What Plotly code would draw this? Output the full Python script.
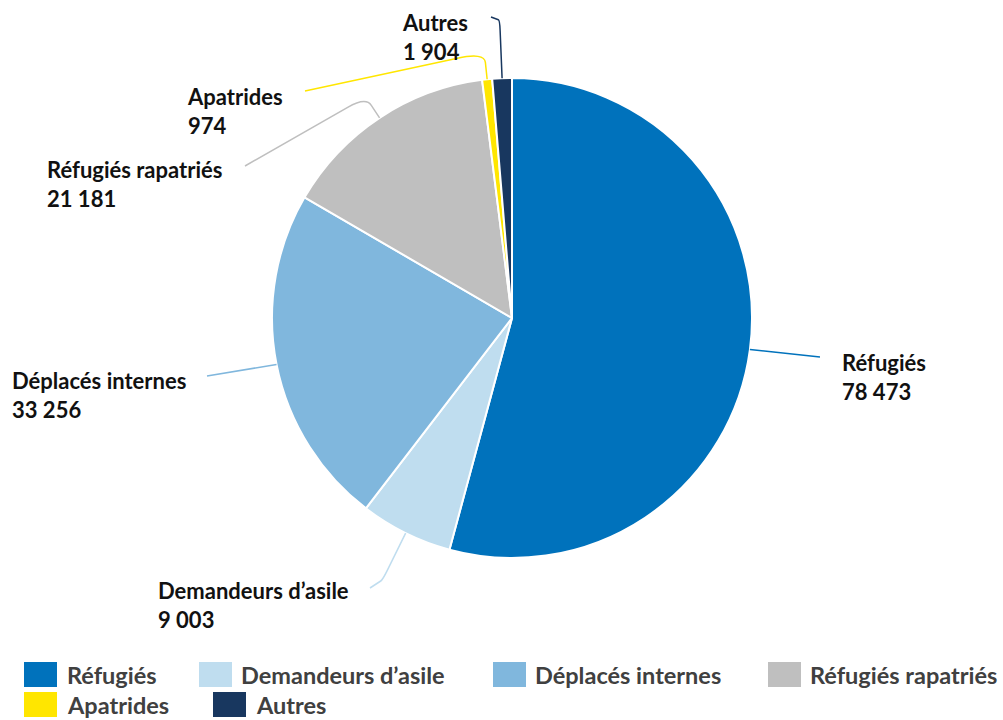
import math
import plotly.graph_objects as go

# ---- data ----
categories = ["Réfugiés", "Demandeurs d’asile", "Déplacés internes",
              "Réfugiés rapatriés", "Apatrides", "Autres"]
values = [78473, 9003, 33256, 21181, 974, 1904]
value_labels = ["78 473", "9 003", "33 256", "21 181", "974", "1 904"]

# ---- style / layout constants ----
colors = ["#0072BC", "#BFDDEF", "#80B7DD", "#BFBFBF", "#FFE600", "#18375F"]
W, H = 1003, 720
CX, CY, R = 512, 318, 240
# per-slice: (radial extension of leader, leader end px, label top-left px)
leader = [
    (0, (820, 357), (840, 347)),
    (52, (370, 588), (156, 575)),
    (0, (207, 376), (10, 365)),
    (25, (245, 166), (45, 154)),
    (27, (305, 91), (185, 81)),
    (58, (491, 17), (400, 7)),
]
# custom legend: (square left x, row centre y, text left x)
legend_pos = [
    (24, 674.5, 65), (199, 674.5, 239), (493, 674.5, 533),
    (768, 674.5, 808), (24, 704.5, 65), (213, 704.5, 254),
]
SQ_W, SQ_H = 33, 25

px = lambda x: x / W
py = lambda y: 1 - y / H

fig = go.Figure(go.Pie(
    labels=categories, values=values, sort=False, direction="clockwise",
    rotation=0, marker=dict(colors=colors, line=dict(color="white", width=2)),
    textinfo="none", hoverinfo="label+value", showlegend=False,
    domain=dict(x=[px(CX - R), px(CX + R)], y=[py(CY + R), py(CY - R)]),
))

total = sum(values)
cum = 0
shapes, annotations = [], []
for i, v in enumerate(values):
    mid = (cum + v / 2) / total * 2 * math.pi
    cum += v
    ext, end, txt = leader[i]
    s, c = math.sin(mid), math.cos(mid)
    ex, ey = CX + R * s, CY - R * c
    if ext > 0:
        k1x, k1y = CX + (R + ext - 10) * s, CY - (R + ext - 10) * c
        kx, ky = CX + (R + ext) * s, CY - (R + ext) * c
        path = (f"M {px(ex)},{py(ey)} L {px(k1x)},{py(k1y)} "
                f"Q {px(kx)},{py(ky)} {px(kx + (end[0]-kx)*0.15)},{py(ky + (end[1]-ky)*0.15)} "
                f"L {px(end[0])},{py(end[1])}")
    else:
        path = f"M {px(ex)},{py(ey)} L {px(end[0])},{py(end[1])}"
    shapes.append(dict(type="path", xref="paper", yref="paper", path=path,
                       line=dict(color=colors[i], width=1.5)))
    annotations.append(dict(
        xref="paper", yref="paper", x=px(txt[0]), y=py(txt[1]),
        xanchor="left", yanchor="top", align="left", showarrow=False,
        text=f"<b>{categories[i]}<br>{value_labels[i]}</b>",
        font=dict(family="Lato", size=22, color="#111111"),
    ))

# legend
for i, name in enumerate(categories):
    sx, ry, tx = legend_pos[i]
    shapes.append(dict(type="rect", xref="paper", yref="paper",
                       x0=px(sx), x1=px(sx + SQ_W), y0=py(ry + SQ_H / 2), y1=py(ry - SQ_H / 2),
                       fillcolor=colors[i], line=dict(width=0)))
    annotations.append(dict(
        xref="paper", yref="paper", x=px(tx), y=py(ry),
        xanchor="left", yanchor="middle", showarrow=False, text=name,
        font=dict(family="Lato", size=23.5, color="#404040", weight="bold"),
    ))

fig.update_layout(
    width=W, height=H, margin=dict(l=0, r=0, t=0, b=0, autoexpand=False),
    paper_bgcolor="white", plot_bgcolor="white",
    shapes=shapes, annotations=annotations, showlegend=False,
)
fig.write_html("out.html", config={"displayModeBar": False},
               post_script="document.body.style.margin='0';document.body.style.overflow='hidden';")
